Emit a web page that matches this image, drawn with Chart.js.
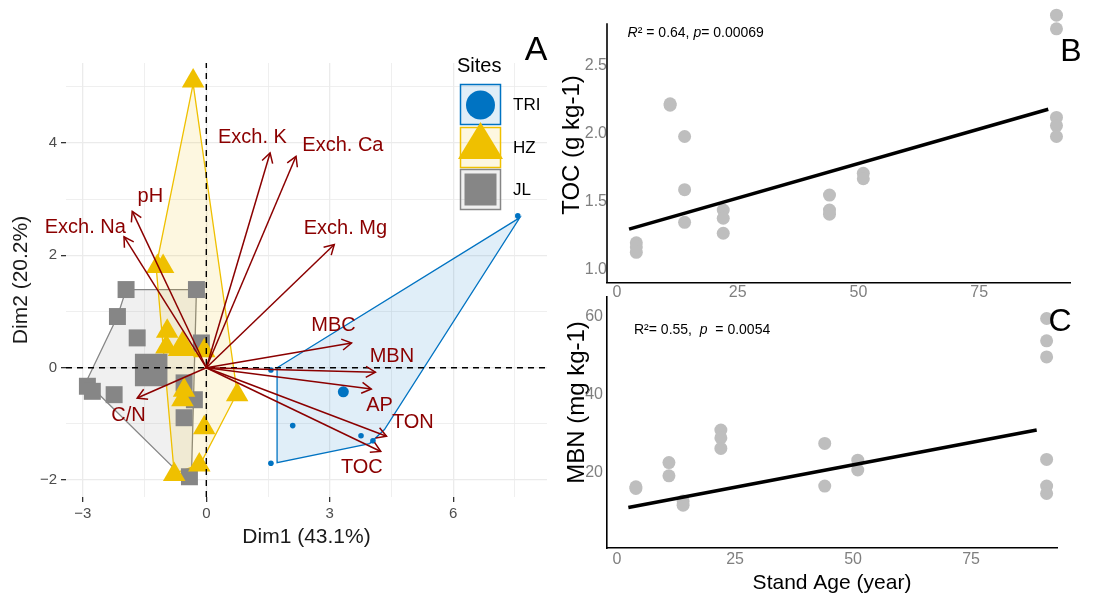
<!DOCTYPE html>
<html><head><meta charset="utf-8">
<script src="https://cdn.jsdelivr.net/npm/chart.js@4.4.1/dist/chart.umd.min.js"></script>
<style>
html,body{margin:0;padding:0;background:#fff;width:1094px;height:601px;overflow:hidden}
.p{position:absolute}
canvas{display:block}
</style></head><body>
<div class="p" style="left:0;top:0;width:560px;height:601px"><canvas id="cA" width="560" height="601"></canvas></div>
<div class="p" style="left:560px;top:0;width:534px;height:300px"><canvas id="cB" width="534" height="300"></canvas></div>
<div class="p" style="left:560px;top:290px;width:534px;height:311px"><canvas id="cC" width="534" height="311"></canvas></div>
<script>
// ---------------- Panel A: PCA biplot ----------------
const siteNames = ['TRI', 'HZ', 'JL'];
const siteColors = ['#0073C2', '#EFC000', '#868686'];
const triX = [7.57, 1.57, 2.10, 3.76, 4.05, 1.57];
const triY = [2.70, -0.04, -1.03, -1.21, -1.30, -1.70];
const hzX = [-0.32, -1.19, -1.05, -0.95, -0.97, -0.05, -0.54, -0.58, 0.75, -0.05, -0.17, -0.78];
const hzY = [5.10, 1.80, 1.80, 0.65, 0.37, 0.30, -0.40, -0.57, -0.48, -1.07, -1.73, -1.90];
const jlX = [-1.95, -0.24, -2.16, -1.68, -2.89, -2.77, -2.24, -0.54, -0.29, -0.54, -0.41, -0.12];
const jlY = [1.39, 1.39, 0.91, 0.53, -0.33, -0.42, -0.48, -0.27, -0.57, -0.89, -1.94, 0.44];
const centX = [3.33, -0.58, -1.34];
const centY = [-0.43, 0.36, -0.04];
const triHullX = [1.72, 7.62, 4.33, 3.97, 1.72];
const triHullY = [0.00, 2.67, -1.10, -1.35, -1.69];
const hzHullX = [-0.32, 0.75, -0.15, -0.78, -1.22];
const hzHullY = [5.05, -0.45, -1.72, -1.88, 1.80];
const jlHullX = [-1.95, -0.24, -0.36, -0.60, -2.92, -2.16];
const jlHullY = [1.39, 1.39, -1.90, -1.92, -0.25, 0.91];
const varNames = ['Exch. K', 'Exch. Ca', 'Exch. Mg', 'pH', 'Exch. Na', 'MBC', 'MBN', 'AP', 'TON', 'TOC', 'C/N'];
const varX = [1.55, 2.18, 3.11, -1.80, -2.00, 3.53, 4.11, 4.01, 4.38, 4.24, -1.68];
const varY = [3.82, 3.76, 2.19, 2.78, 2.33, 0.44, -0.08, -0.38, -1.22, -1.49, -0.54];
const varLabelX = [1.12, 3.32, 3.38, -1.36, -2.94, 3.09, 4.51, 4.21, 5.02, 3.78, -1.89];
const varLabelY = [4.09, 3.95, 2.47, 3.04, 2.49, 0.75, 0.20, -0.68, -0.98, -1.78, -0.85];
const aXMin = -3.41, aXMax = 8.28, aYMin = -2.30, aYMax = 5.42;
const aXTicks = [-3, -1.5, 0, 1.5, 3, 4.5, 6, 7.5];
const aXTickLabels = ['−3', '', '0', '', '3', '', '6', ''];
const aYTicks = [-2, -1, 0, 1, 2, 3, 4, 5];
const aYTickLabels = ['−2', '', '0', '', '2', '', '4', ''];

// ---------------- Panel B: TOC vs stand age ----------------
const ageB = [4, 4, 4, 11, 11, 14, 14, 14, 22, 22, 22, 44, 44, 44, 51, 51, 91, 91, 91, 91, 91];
const tocB = [1.20, 1.17, 1.13, 2.22, 2.21, 1.98, 1.59, 1.35, 1.44, 1.38, 1.27, 1.55, 1.44, 1.41, 1.71, 1.67, 2.87, 2.77, 2.12, 2.06, 1.98];
const fitBX = [2.5, 89.3];
const fitBY = [1.30, 2.18];
const bXTicks = [0, 25, 50, 75];
const bXTickLabels = ['0', '25', '50', '75'];
const bYTicks = [1.0, 1.5, 2.0, 2.5];
const bYTickLabels = ['1.0', '1.5', '2.0', '2.5'];
const bAxisTop = 2.81;

// ---------------- Panel C: MBN vs stand age ----------------
const ageC = [4, 4, 11, 11, 14, 14, 22, 22, 22, 44, 44, 51, 51, 91, 91, 91, 91, 91, 91];
const mbnC = [16.4, 16.0, 22.6, 19.2, 12.8, 11.7, 30.9, 28.9, 26.2, 27.5, 16.6, 23.2, 20.7, 59.4, 53.7, 49.6, 23.4, 16.6, 14.7];
const fitCX = [2.4, 88.9];
const fitCY = [11.1, 30.9];
const cXTicks = [0, 25, 50, 75];
const cXTickLabels = ['0', '25', '50', '75'];
const cYTicks = [20, 40, 60];
const cYTickLabels = ['20', '40', '60'];

// ---------------- helpers ----------------
Chart.defaults.font.family = '"Liberation Sans", Arial, Helvetica, sans-serif';
const FONT = '"Liberation Sans", Arial, Helvetica, sans-serif';
const pts = (xs, ys) => xs.map((v, i) => ({x: v, y: ys[i]}));
const setTicks = (vals) => (s) => { s.ticks = vals.map(v => ({value: v})); };
const labelFrom = (vals, labels) => (v) => { const i = vals.findIndex(t => Math.abs(t - v) < 1e-9); return i < 0 ? '' : labels[i]; };
const fitH = (h) => (s) => { s.height = h; s.paddingLeft = 0; s.paddingRight = 0; s.paddingTop = 0; s.paddingBottom = 0; };
const fitW = (w) => (s) => { s.width = w; s.paddingLeft = 0; s.paddingRight = 0; s.paddingTop = 0; s.paddingBottom = 0; };
const DARKRED = '#8B0000';

// ---------------- Chart A ----------------
const aPlugin = {
  id: 'aExtras',
  beforeDatasetsDraw(chart) {
    const {ctx, scales: {x, y}} = chart;
    const hulls = [[jlHullX, jlHullY, '134,134,134'], [hzHullX, hzHullY, '239,192,0'], [triHullX, triHullY, '0,115,194']];
    ctx.save();
    hulls.forEach(([hx, hy, c]) => {
      ctx.beginPath();
      hx.forEach((v, i) => {
        const X = x.getPixelForValue(v), Y = y.getPixelForValue(hy[i]);
        if (i) ctx.lineTo(X, Y); else ctx.moveTo(X, Y);
      });
      ctx.closePath();
      ctx.fillStyle = `rgba(${c},0.12)`;
      ctx.fill();
      ctx.strokeStyle = `rgb(${c})`;
      ctx.lineWidth = 1.3;
      ctx.stroke();
    });
    ctx.restore();
  },
  afterDatasetsDraw(chart) {
    const {ctx, scales: {x, y}} = chart;
    ctx.save();
    const x0 = x.getPixelForValue(0), y0 = y.getPixelForValue(0);
    ctx.strokeStyle = DARKRED;
    ctx.lineWidth = 1.5;
    varX.forEach((vx, i) => {
      const X = x.getPixelForValue(vx), Y = y.getPixelForValue(varY[i]);
      const a = Math.atan2(Y - y0, X - x0);
      const L = 11, sp = Math.PI / 6;
      ctx.beginPath();
      ctx.moveTo(X - L * Math.cos(a - sp), Y - L * Math.sin(a - sp));
      ctx.lineTo(X, Y);
      ctx.lineTo(X - L * Math.cos(a + sp), Y - L * Math.sin(a + sp));
      ctx.stroke();
    });
    ctx.fillStyle = DARKRED;
    ctx.font = `20px ${FONT}`;
    ctx.textAlign = 'center';
    ctx.textBaseline = 'middle';
    varNames.forEach((n, i) => {
      ctx.fillText(n, x.getPixelForValue(varLabelX[i]), y.getPixelForValue(varLabelY[i]));
    });
    ctx.restore();
  },
  afterDraw(chart) {
    const ctx = chart.ctx;
    ctx.save();
    ctx.fillStyle = '#000';
    ctx.font = `20px ${FONT}`;
    ctx.textAlign = 'left';
    ctx.textBaseline = 'middle';
    ctx.fillText('Sites', 457, 66);
    const boxes = [[84, '0,115,194'], [127, '239,192,0'], [169, '134,134,134']];
    boxes.forEach(([top, c]) => {
      ctx.fillStyle = `rgba(${c},0.12)`;
      ctx.fillRect(460, top, 41, 41);
      ctx.strokeStyle = `rgb(${c})`;
      ctx.lineWidth = 1.5;
      ctx.strokeRect(460.5, top + 0.5, 40, 40);
    });
    ctx.fillStyle = siteColors[0];
    ctx.beginPath(); ctx.arc(480.5, 105, 14.5, 0, Math.PI * 2); ctx.fill();
    ctx.fillStyle = siteColors[1];
    ctx.beginPath(); ctx.moveTo(480.5, 122); ctx.lineTo(503, 159); ctx.lineTo(458, 159); ctx.closePath(); ctx.fill();
    ctx.fillStyle = siteColors[2];
    ctx.fillRect(464.5, 173.5, 32, 32);
    ctx.fillStyle = '#000';
    ctx.font = `17px ${FONT}`;
    ctx.fillText(siteNames[0], 513, 105);
    ctx.fillText(siteNames[1], 513, 148);
    ctx.fillText(siteNames[2], 513, 190);
    ctx.font = `34px ${FONT}`;
    ctx.textAlign = 'center';
    ctx.fillText('A', 536, 51);
    ctx.restore();
  }
};

const arrowSets = varX.map((vx, i) => ({
  label: varNames[i], data: [{x: 0, y: 0}, {x: vx, y: varY[i]}], showLine: true,
  borderColor: DARKRED, borderWidth: 1.5, pointRadius: 0, order: 10, clip: false
}));

const majorA = (ticks, labels) => (c) => c.tick && labels[ticks.indexOf(c.tick.value)] !== '';

new Chart(document.getElementById('cA'), {
  type: 'scatter',
  data: {
    datasets: [
      {label: 'JL', data: pts(jlX, jlY), pointStyle: 'rect', pointRadius: 12, backgroundColor: siteColors[2], borderWidth: 0, order: 60},
      {label: 'HZ', data: pts(hzX, hzY), pointStyle: 'triangle', pointRadius: 13, backgroundColor: siteColors[1], borderWidth: 0, order: 50},
      {label: 'TRI', data: pts(triX, triY), pointStyle: 'circle', pointRadius: 2.8, backgroundColor: siteColors[0], borderWidth: 0, order: 40},
      {label: 'centroids', data: pts(centX, centY), pointStyle: ['circle', 'triangle', 'rect'], pointRadius: [5.5, 17, 23],
        backgroundColor: siteColors, borderWidth: 0, order: 30},
      {label: 'h0', data: [{x: aXMin, y: 0}, {x: aXMax, y: 0}], showLine: true, borderColor: '#000', borderWidth: 1.4, borderDash: [6, 5], pointRadius: 0, order: 20},
      {label: 'v0', data: [{x: 0, y: aYMin}, {x: 0, y: aYMax}], showLine: true, borderColor: '#000', borderWidth: 1.4, borderDash: [6, 5], pointRadius: 0, order: 20},
      ...arrowSets
    ]
  },
  options: {
    responsive: false, devicePixelRatio: 1, animation: false, events: [],
    layout: {autoPadding: false, padding: {left: 0, right: 13, top: 63, bottom: 0}},
    plugins: {legend: {display: false}, tooltip: {enabled: false}},
    scales: {
      x: {
        type: 'linear', min: aXMin, max: aXMax,
        afterBuildTicks: setTicks(aXTicks),
        afterFit: fitH(104),
        border: {display: false},
        grid: {
          color: '#ebebeb',
          lineWidth: c => majorA(aXTicks, aXTickLabels)(c) ? 1.3 : 0.8,
          drawTicks: true, tickLength: 5,
          tickColor: c => majorA(aXTicks, aXTickLabels)(c) ? '#333' : 'rgba(0,0,0,0)',
          tickWidth: 1.3
        },
        ticks: {callback: labelFrom(aXTicks, aXTickLabels), color: '#4d4d4d', font: {size: 15}, padding: 3, maxRotation: 0, autoSkip: false},
        title: {display: true, text: 'Dim1 (43.1%)', color: '#1a1a1a', font: {size: 21}, padding: {top: 0, bottom: 51}}
      },
      y: {
        type: 'linear', min: aYMin, max: aYMax,
        afterBuildTicks: setTicks(aYTicks),
        afterFit: fitW(66),
        border: {display: false},
        grid: {
          color: '#ebebeb',
          lineWidth: c => majorA(aYTicks, aYTickLabels)(c) ? 1.3 : 0.8,
          drawTicks: true, tickLength: 5,
          tickColor: c => majorA(aYTicks, aYTickLabels)(c) ? '#333' : 'rgba(0,0,0,0)',
          tickWidth: 1.3
        },
        ticks: {callback: labelFrom(aYTicks, aYTickLabels), color: '#4d4d4d', font: {size: 15}, padding: 4, autoSkip: false},
        title: {display: true, text: 'Dim2 (20.2%)', color: '#1a1a1a', font: {size: 21}, padding: {top: 9, bottom: 0}}
      }
    }
  },
  plugins: [aPlugin]
});

// ---------------- Chart B ----------------
const bPlugin = {
  id: 'bExtras',
  beforeDatasetsDraw(chart) {
    const {ctx, scales: {x, y}} = chart;
    ctx.save();
    ctx.strokeStyle = '#000';
    ctx.lineWidth = 1.6;
    ctx.beginPath();
    ctx.moveTo(x.left, y.getPixelForValue(bAxisTop));
    ctx.lineTo(x.left, y.bottom);
    ctx.stroke();
    ctx.restore();
  },
  afterDraw(chart) {
    const {ctx, scales: {x, y}} = chart;
    ctx.save();
    ctx.fillStyle = '#000';
    ctx.textBaseline = 'middle';
    ctx.textAlign = 'left';
    let X = x.getPixelForValue(2.2);
    const Y = y.getPixelForValue(2.74);
    const parts = [['italic 14px', 'R'], ['14px', '² = 0.64, '], ['italic 14px', 'p'], ['14px', '= 0.00069']];
    parts.forEach(([f, t]) => { ctx.font = `${f} ${FONT}`; ctx.fillText(t, X, Y); X += ctx.measureText(t).width; });
    ctx.font = `32px ${FONT}`;
    ctx.textAlign = 'center';
    ctx.fillText('B', 511, 52);
    ctx.restore();
  }
};

new Chart(document.getElementById('cB'), {
  type: 'scatter',
  data: {
    datasets: [
      {label: 'fit', data: pts(fitBX, fitBY), showLine: true, borderColor: '#000', borderWidth: 3.5, pointRadius: 0, order: 1},
      {label: 'TOC', data: pts(ageB, tocB), pointRadius: 6.5, backgroundColor: '#bebebe', borderWidth: 0, order: 2, clip: false}
    ]
  },
  options: {
    responsive: false, devicePixelRatio: 1, animation: false, events: [],
    layout: {autoPadding: false, padding: {left: 0, right: 24, top: 7, bottom: 0}},
    plugins: {legend: {display: false}, tooltip: {enabled: false}},
    scales: {
      x: {
        type: 'linear', min: -2.07, max: 93.8,
        afterBuildTicks: setTicks(bXTicks),
        afterFit: fitH(17),
        border: {display: true, color: '#000', width: 1.6},
        grid: {display: false, drawTicks: false},
        ticks: {callback: labelFrom(bXTicks, bXTickLabels), color: '#7f7f7f', font: {size: 16}, padding: 0, maxRotation: 0, autoSkip: false}
      },
      y: {
        type: 'linear', min: 0.905, max: 2.93,
        afterBuildTicks: setTicks(bYTicks),
        afterFit: fitW(47),
        border: {display: false},
        grid: {display: false, drawTicks: false},
        ticks: {callback: labelFrom(bYTicks, bYTickLabels), color: '#7f7f7f', font: {size: 16}, padding: 0, autoSkip: false},
        title: {display: true, text: 'TOC (g kg-1)', color: '#000', font: {size: 24, lineHeight: 1}, padding: {top: 0, bottom: 0}}
      }
    }
  },
  plugins: [bPlugin]
});

// ---------------- Chart C ----------------
const cPlugin = {
  id: 'cExtras',
  afterDraw(chart) {
    const {ctx, scales: {x, y}} = chart;
    ctx.save();
    ctx.fillStyle = '#000';
    ctx.textBaseline = 'middle';
    ctx.textAlign = 'left';
    let X = x.getPixelForValue(3.6);
    const Y = y.getPixelForValue(56.4);
    const parts = [['14px', 'R²= 0.55,  '], ['italic 14px', 'p'], ['14px', '  = 0.0054']];
    parts.forEach(([f, t]) => { ctx.font = `${f} ${FONT}`; ctx.fillText(t, X, Y); X += ctx.measureText(t).width; });
    ctx.font = `32px ${FONT}`;
    ctx.textAlign = 'center';
    ctx.fillText('C', 500, 32);
    ctx.restore();
  }
};

new Chart(document.getElementById('cC'), {
  type: 'scatter',
  data: {
    datasets: [
      {label: 'fit', data: pts(fitCX, fitCY), showLine: true, borderColor: '#000', borderWidth: 3.5, pointRadius: 0, order: 1},
      {label: 'MBN', data: pts(ageC, mbnC), pointRadius: 6.5, backgroundColor: '#bebebe', borderWidth: 0, order: 2, clip: false}
    ]
  },
  options: {
    responsive: false, devicePixelRatio: 1, animation: false, events: [],
    layout: {autoPadding: false, padding: {left: 0, right: 37, top: 7, bottom: 0}},
    plugins: {legend: {display: false}, tooltip: {enabled: false}},
    scales: {
      x: {
        type: 'linear', min: -2.12, max: 93.2,
        afterBuildTicks: setTicks(cXTicks),
        afterFit: fitH(53),
        border: {display: true, color: '#000', width: 1.6},
        grid: {display: false, drawTicks: false},
        ticks: {callback: labelFrom(cXTicks, cXTickLabels), color: '#7f7f7f', font: {size: 16}, padding: 2, maxRotation: 0, autoSkip: false},
        title: {display: true, text: 'Stand Age (year)', color: '#000', font: {size: 21}, padding: {top: 0, bottom: 5}}
      },
      y: {
        type: 'linear', min: 0.77, max: 64.9,
        afterBuildTicks: setTicks(cYTicks),
        afterFit: fitW(47),
        border: {display: true, color: '#000', width: 1.6},
        grid: {display: false, drawTicks: false},
        ticks: {callback: labelFrom(cYTicks, cYTickLabels), color: '#7f7f7f', font: {size: 16}, padding: 4, autoSkip: false},
        title: {display: true, text: '      MBN (mg kg-1)', color: '#000', font: {size: 24, lineHeight: 1}, padding: {top: 5, bottom: 0}}
      }
    }
  },
  plugins: [cPlugin]
});
</script>
</body></html>
